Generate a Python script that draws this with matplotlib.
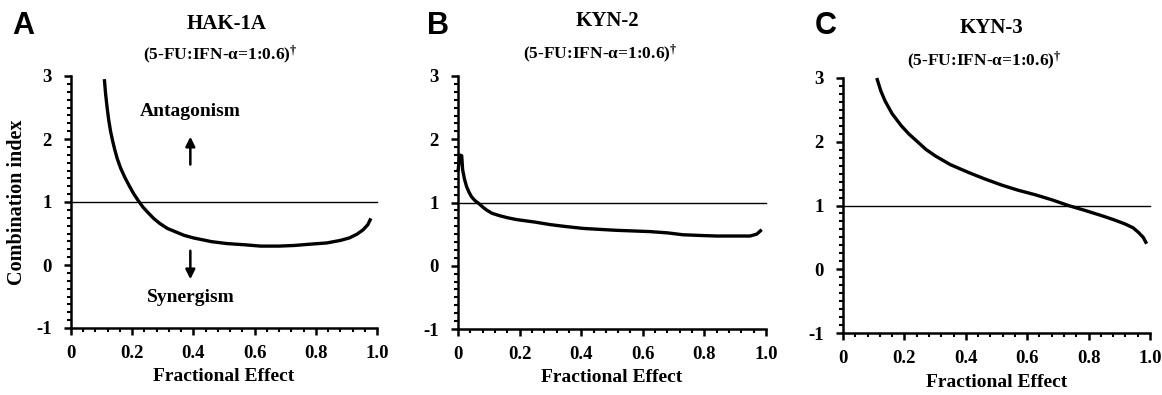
import matplotlib
matplotlib.use("Agg")
import matplotlib.pyplot as plt
from matplotlib.ticker import AutoMinorLocator

# combination index (CI) vs fractional effect (fa), 5-FU : IFN-alpha = 1 : 0.6
hak_fa = [0.109, 0.113, 0.118, 0.123, 0.129, 0.136, 0.143, 0.151, 0.162, 0.176,
          0.19, 0.205, 0.22, 0.235, 0.25, 0.27, 0.29, 0.315, 0.345, 0.37, 0.40,
          0.46, 0.51, 0.57, 0.62, 0.68, 0.73, 0.78, 0.836, 0.88, 0.91, 0.935,
          0.955, 0.97, 0.98]
hak_ci = [2.95, 2.72, 2.50, 2.31, 2.13, 1.97, 1.83, 1.69, 1.54, 1.39,
          1.26, 1.13, 1.02, 0.92, 0.84, 0.74, 0.66, 0.58, 0.52, 0.47, 0.43,
          0.37, 0.34, 0.32, 0.30, 0.30, 0.31, 0.33, 0.35, 0.39, 0.43, 0.49,
          0.56, 0.64, 0.74]

kyn2_fa = [0.0, 0.006, 0.012, 0.015, 0.021, 0.028, 0.036, 0.044, 0.055, 0.066,
           0.08, 0.093, 0.11, 0.136, 0.16, 0.19, 0.25, 0.30, 0.35, 0.407, 0.46,
           0.515, 0.57, 0.623, 0.68, 0.73, 0.78, 0.84, 0.9, 0.948, 0.97, 0.986]
kyn2_ci = [1.5, 1.75, 1.74, 1.52, 1.37, 1.25, 1.16, 1.09, 1.03, 0.99,
           0.93, 0.88, 0.83, 0.79, 0.76, 0.73, 0.69, 0.65, 0.62, 0.59, 0.575,
           0.56, 0.55, 0.54, 0.52, 0.49, 0.48, 0.47, 0.47, 0.47, 0.50, 0.57]

kyn3_fa = [0.11, 0.123, 0.137, 0.16, 0.19, 0.215, 0.245, 0.27, 0.30, 0.35,
           0.408, 0.46, 0.517, 0.57, 0.625, 0.68, 0.734, 0.79, 0.843, 0.88,
           0.919, 0.945, 0.962, 0.978, 0.989]
kyn3_ci = [3.0, 2.8, 2.64, 2.44, 2.25, 2.12, 1.99, 1.88, 1.78, 1.64,
           1.52, 1.42, 1.32, 1.24, 1.17, 1.09, 1.0, 0.92, 0.84, 0.78,
           0.71, 0.65, 0.58, 0.50, 0.40]

panels = [
    ("A", "HAK-1A", hak_fa, hak_ci),
    ("B", "KYN-2", kyn2_fa, kyn2_ci),
    ("C", "KYN-3", kyn3_fa, kyn3_ci),
]
ratio_text = "(5-FU:IFN-\u03b1=1:0.6)$^{\u2020}$"
xticks = [0, 0.2, 0.4, 0.6, 0.8, 1.0]
xticklabels = ["0", "0.2", "0.4", "0.6", "0.8", "1.0"]
yticks = [-1, 0, 1, 2, 3]
yticklabels = ["-1", "0", "1", "2", "3"]

plt.rcParams["font.family"] = "Liberation Serif"
plt.rcParams["font.weight"] = "bold"
plt.rcParams["mathtext.fontset"] = "custom"
plt.rcParams["mathtext.rm"] = "Liberation Serif:bold"
plt.rcParams["mathtext.default"] = "rm"

W, H = 1162, 395
fig = plt.figure(figsize=(W / 100, H / 100), dpi=100)

# axes boxes in pixels: left, right, top, bottom
boxes = [(71, 377, 76, 328), (458, 766, 76, 329), (843, 1150, 78, 333)]
letter_x = [12, 427, 815]
title_pos = [(227, 24, 220, 55), (607, 21, 600, 54), (992, 28, 984, 61)]

axes = []
for i, (letter, name, fa, ci) in enumerate(panels):
    l, r, t, b = boxes[i]
    ax = fig.add_axes([l / W, 1 - b / H, (r - l) / W, (b - t) / H])
    axes.append(ax)

    ax.plot([0, 1.0], [1, 1], color="black", lw=1.0, clip_on=False)
    ax.plot(fa, ci, color="black", lw=2.4, solid_capstyle="butt",
            solid_joinstyle="round", clip_on=False)

    ax.set_xlim(0, 1.0)
    ax.set_ylim(-1, 3)
    for s in ["top", "right"]:
        ax.spines[s].set_visible(False)
    for s in ["left", "bottom"]:
        ax.spines[s].set_linewidth(1.8)
    ax.set_xticks(xticks)
    ax.set_xticklabels(xticklabels)
    ax.set_yticks(yticks)
    ax.set_yticklabels(yticklabels)
    ax.xaxis.set_minor_locator(AutoMinorLocator(5))
    ax.yaxis.set_minor_locator(AutoMinorLocator(8))
    ax.tick_params(which="major", length=5, width=1.8, labelsize=13.5)
    ax.tick_params(axis="x", which="major", pad=7)
    ax.tick_params(axis="y", which="major", pad=9)
    ax.tick_params(which="minor", length=3, width=1.5)
    for lab in ax.get_xticklabels() + ax.get_yticklabels():
        lab.set_fontweight("bold")

    ax.set_xlabel("Fractional Effect", fontsize=14, fontweight="bold")
    ax.xaxis.set_label_coords(0.5, -0.16)

    fig.text(letter_x[i] / W, 1 - 26 / H, letter, family="Liberation Sans",
             fontsize=22, fontweight="heavy", ha="left", va="center")
    tx, ty, sx, sy = title_pos[i]
    fig.text(tx / W, 1 - ty / H, name, fontsize=15, fontweight="bold",
             ha="center", va="center")
    fig.text(sx / W, 1 - sy / H, ratio_text, fontsize=12.5, fontweight="bold",
             ha="center", va="center")

axA = axes[0]
axA.set_ylabel("Combination index", fontsize=14.5, fontweight="bold",
               va="center")
axA.yaxis.set_label_coords(-0.178, 0.5)

# antagonism / synergism annotations on panel A
axA.text(0.39, 2.43, "Antagonism", fontsize=14, fontweight="bold",
         ha="center", va="center")
axA.annotate("", xy=(0.39, 2.08), xytext=(0.39, 1.55),
             arrowprops=dict(arrowstyle="-|>", color="black", lw=1.8,
                             mutation_scale=14))
axA.annotate("", xy=(0.39, -0.27), xytext=(0.39, 0.27),
             arrowprops=dict(arrowstyle="-|>", color="black", lw=1.8,
                             mutation_scale=14))
axA.text(0.39, -0.51, "Synergism", fontsize=14, fontweight="bold",
         ha="center", va="center")

fig.savefig("out.png", dpi=100)
